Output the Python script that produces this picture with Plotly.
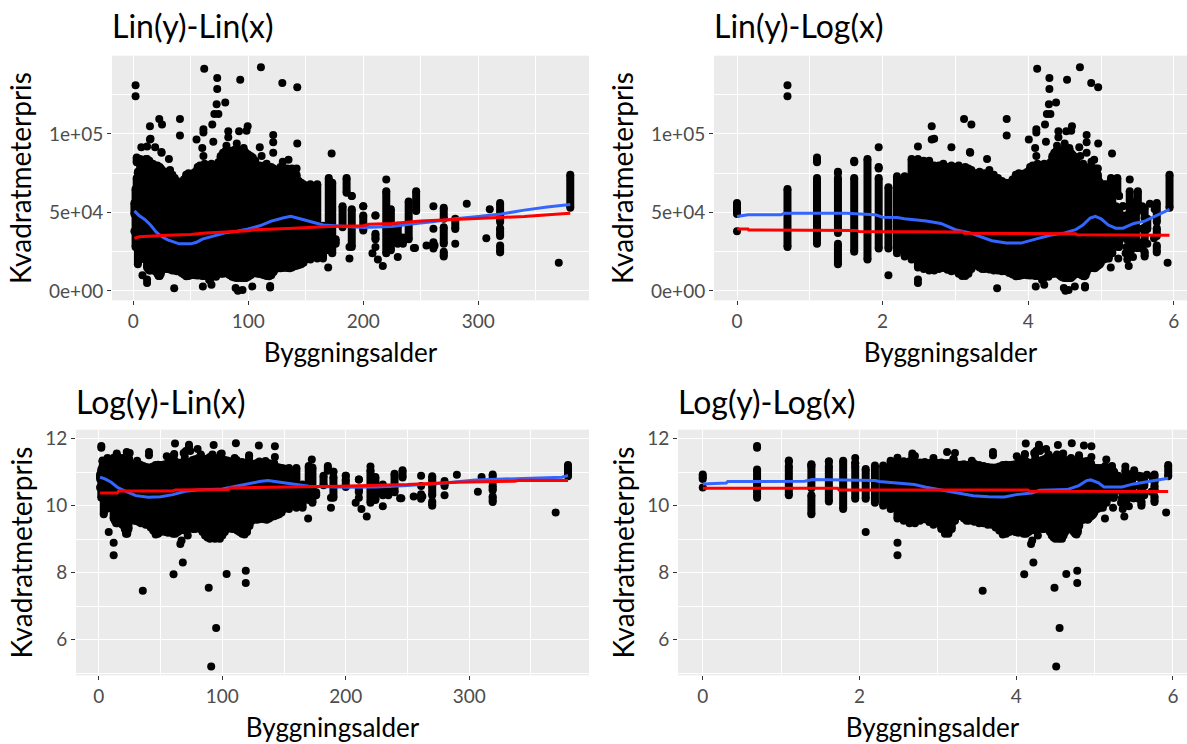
import math
import plotly.graph_objects as go

# Dense body of points, read column by column: age, lowest and highest price
MASS_AGE = [1,2,3,3,4,4,4,5,5,6,7,7,8,9,10,11,12,13,14,15,16,17,18,19,20,21,22,23,24,25,26,27,28,29,30,32,34,36,38,40,42,44,46,48,50,52,54,56,58,60,62,64,66,68,70,72,74,76,78,80,82,84,86,88,90,92,94,96,98,100,102,104,106,108,110,112,114,116,118,120,122,124,126,128,130,132,134,136,138,140,142,144,146,148,150]
MASS_LOW = [49000,28000,30000,82000,37000,17000,75000,25000,82000,20000,27000,78000,27000,24000,22000,20000,15000,14000,13000,13000,14000,14700,13500,12500,13000,11000,9500,9500,11000,14000,16500,16000,15000,14000,14000,13600,13000,13000,12500,12500,11500,10500,9300,9500,10000,10400,10000,9800,10000,9500,9500,10000,10500,11000,10500,11000,11500,11000,11000,11500,11000,10000,9000,8500,8200,8400,8200,8300,8200,9000,10000,11000,11500,11000,11000,10500,10000,9500,9300,10000,12000,14000,14700,14500,14700,15000,14700,14500,15000,15800,16000,16500,17000,18000,20000]
MASS_HIGH = [56000,65000,72000,85000,72000,30000,76000,72000,83000,84000,72000,79000,66000,73000,73000,84000,84000,83000,83000,80000,80000,81000,79000,80000,79000,80000,78000,79000,78000,77000,75000,75000,76000,74000,75000,75000,74000,72000,70000,69000,69000,71000,74000,75000,74500,75000,76000,79000,80000,78000,81000,80000,79000,81000,80000,79000,82000,86000,88000,89000,90000,88000,89000,90000,89000,90000,88000,91000,88000,87000,86000,85000,83000,79000,80000,79000,80000,81000,78000,79000,78000,77000,76000,79000,79000,77000,78000,76000,78000,75000,74000,70000,69000,68000,67000]

# Sparser columns of points at the old ages, split where the picture shows gaps
OLD_AGE = [154,160,165,170,173,176,182,185.5,190,190,200,200,210.6,210.6,220,224,230,234.5,239.5,246,261,270,270,270,280,319,319,319,380]
OLD_LOW = [20000,20700,20700,26000,24000,30000,40600,62500,28000,60500,38500,54000,33000,48000,24000,26000,30000,30000,33000,51000,27000,46000,30000,22000,39500,44000,35000,24500,53000]
OLD_HIGH = [68000,68000,41600,72000,69000,33000,54000,72000,52000,60500,48000,54000,36400,48000,63600,52000,41600,34000,57000,63600,31000,53000,40600,25000,46000,56000,40000,29000,74000]

# Single points outside the dense body
OUT_AGE = [1,8,2,2,61.7,111,73,73,93,129.6,142.6,80,72.5,70.5,74,68.7,61,61,22.6,25,14.5,14.5,7,19,40.6,40.6,55,69.6,60,61,24.6,31,32,82.6,82.6,92,99.5,98.5,90,81,121.7,121.7,121.7,110,111.6,142.6,135,130,142,172.5,169.5,35.6,60.5,68,89,95,91,103.5,119,119,12,12,370,290,307,310,230,245,217,212.7,208,188,188,210.6,220,255,261,262,261,244,280,24.5,15,12,66,67,72]
OUT_PRICE = [38000,10000,131000,124000,141500,142500,135700,128700,134500,132500,129800,120000,119000,112800,112800,106000,103000,101000,109500,106000,105000,96500,91500,91500,109500,99000,96500,95000,91000,86000,88000,84000,77000,101700,98000,101700,105000,102000,94000,92500,99400,94700,88000,91500,86000,94000,83600,82300,78000,87500,15000,1740,2840,4020,1900,570,180,2850,3150,2180,7300,5000,18000,55500,33500,52000,21700,27400,15900,20000,24000,28000,20700,28000,71000,29000,54000,29000,39600,27400,30000,88500,97000,92000,7000,7800,9000]

# Smoothers in each panel
LINLIN_BLUE_X = [1,5,10,15,20,25,30,40,50,55,60,70,80,90,100,110,120,130,137,145,155,165,175,190,200,225,240,260,280,300,320,340,360,380]
LINLIN_BLUE_Y = [51000,48000,45500,42000,37500,34500,32500,30000,30000,31000,33000,35000,37000,38000,39500,41500,44500,46500,47500,46000,44000,42000,41500,41000,40500,41000,42500,44000,46000,47500,49000,51500,53500,55000]
LINLIN_RED_X = [1,5,30,50,60,80,100,105,130,135,170,200,205,225,250,280,320,340,370,380]
LINLIN_RED_Y = [33500,34500,35500,36000,36800,37500,38300,39000,39500,39800,41000,41500,42500,43000,44500,45500,47000,47500,49000,49500]

LINLOG_BLUE_X = [0,.1,.15,.6,.65,1.5,1.9,2,2.2,2.3,2.6,2.8,3,3.2,3.4,3.5,3.7,3.9,4.1,4.3,4.5,4.65,4.75,4.85,4.92,5,5.1,5.2,5.3,5.45,5.6,5.75,5.94]
LINLOG_BLUE_Y = [47500,48000,48500,48500,49500,49500,48500,47000,46800,46000,44500,43000,39000,37000,33500,32000,30500,30500,33000,35500,37000,39000,42000,46500,47500,46000,42000,40000,40000,43000,44500,48000,52000]
LINLOG_RED_X = [0,.15,.16,1.65,1.67,3.1,3.12,4.65,4.67,5.94]
LINLOG_RED_Y = [39500,39500,38800,38500,37800,37500,36700,36500,35800,35500]

LOGLIN_BLUE_X = [1,5,10,15,20,30,40,50,60,70,80,100,110,120,130,137,150,170,200,225,250,280,305,330,350,375,380]
LOGLIN_BLUE_Y = [10.85,10.8,10.7,10.55,10.46,10.3,10.25,10.27,10.33,10.43,10.47,10.5,10.57,10.65,10.72,10.75,10.68,10.58,10.55,10.56,10.6,10.68,10.77,10.8,10.84,10.85,10.9]
LOGLIN_RED_X = [1,15,16,60,62,105,106,150,195,225,250,290,337,340,380]
LOGLIN_RED_Y = [10.38,10.38,10.44,10.44,10.47,10.48,10.53,10.55,10.58,10.61,10.63,10.7,10.73,10.76,10.75]

LOGLOG_BLUE_X = [0,.3,.32,1.3,1.4,2.2,2.25,2.5,2.7,2.85,3.05,3.3,3.45,3.65,3.85,4,4.2,4.3,4.65,4.8,4.9,4.95,5.05,5.12,5.35,5.5,5.7,5.85,5.94]
LOGLOG_BLUE_Y = [10.65,10.68,10.72,10.73,10.78,10.75,10.72,10.66,10.63,10.55,10.47,10.38,10.3,10.27,10.26,10.33,10.38,10.46,10.48,10.6,10.75,10.77,10.68,10.56,10.56,10.65,10.72,10.78,10.82]
LOGLOG_RED_X = [0,1.72,1.74,4.15,4.17,5.94]
LOGLOG_RED_Y = [10.52,10.52,10.47,10.47,10.43,10.42]

TITLES = ["Lin(y)-Lin(x)", "Lin(y)-Log(x)", "Log(y)-Lin(x)", "Log(y)-Log(x)"]
X_TITLE = "Byggningsalder"
Y_TITLE = "Kvadratmeterpris"
LIN_Y_TICKS = [0, 50000, 100000]
LIN_Y_LABELS = ["0e+00", "5e+04", "1e+05"]
LOG_Y_TICKS = [6, 8, 10, 12]
LOG_X_TICKS = [0, 2, 4, 6]
LIN_X_TICKS = [0, 100, 200, 300]

W, H = 1187, 744
FONT = "Lato, 'Open Sans', sans-serif"
INK = "#4D4D4D"

# panel box in pixels (left, right, top, bottom) and axis ranges
LIN_Y_RANGE = (-6020, 149870)
LOG_Y_RANGE = (4.93, 12.27)
PANELS = [
    dict(box=(112, 589, 53, 299), xr=(-18.5, 396.3), yr=LIN_Y_RANGE, logx=False, logy=False, ys=8.5, tgap=8.5,
         blue=(LINLIN_BLUE_X, LINLIN_BLUE_Y), red=(LINLIN_RED_X, LINLIN_RED_Y), xt=LIN_X_TICKS, xm=50),
    dict(box=(714, 1187, 53, 299), xr=(-0.316, 6.18), yr=LIN_Y_RANGE, logx=True, logy=False, ys=8.5, tgap=8.5,
         blue=(LINLOG_BLUE_X, LINLOG_BLUE_Y), red=(LINLOG_RED_X, LINLOG_RED_Y), xt=LOG_X_TICKS, xm=1),
    dict(box=(76, 589, 429, 676), xr=(-18.5, 397), yr=LOG_Y_RANGE, logx=False, logy=True, ys=4, tgap=7,
         blue=(LOGLIN_BLUE_X, LOGLIN_BLUE_Y), red=(LOGLIN_RED_X, LOGLIN_RED_Y), xt=LIN_X_TICKS, xm=50),
    dict(box=(678, 1187, 429, 676), xr=(-0.316, 6.18), yr=LOG_Y_RANGE, logx=True, logy=True, ys=4, tgap=7,
         blue=(LOGLOG_BLUE_X, LOGLOG_BLUE_Y), red=(LOGLOG_RED_X, LOGLOG_RED_Y), xt=LOG_X_TICKS, xm=1),
]

fig = go.Figure()
layout = {}
annotations = []

for i, p in enumerate(PANELS):
    sfx = "" if i == 0 else str(i + 1)
    l, r, t, b = p["box"]
    fx = (lambda a: math.log(a)) if p["logx"] else (lambda a: a)
    fy = (lambda v: math.log(v)) if p["logy"] else (lambda v: v)

    xs, ys = [], []
    for ages, lows, highs in ((MASS_AGE, MASS_LOW, MASS_HIGH), (OLD_AGE, OLD_LOW, OLD_HIGH)):
        for a, lo, hi in zip(ages, lows, highs):
            xs += [fx(a), fx(a), None]
            ys += [fy(lo), fy(hi), None]
    common = dict(xaxis="x" + sfx, yaxis="y" + sfx, showlegend=False, hoverinfo="skip")
    fig.add_trace(go.Scatter(x=xs, y=ys, mode="lines+markers",
                             line=dict(color="black", width=8),
                             marker=dict(color="black", size=8), **common))
    fig.add_trace(go.Scatter(x=[fx(a) for a in OUT_AGE], y=[fy(v) for v in OUT_PRICE], mode="markers",
                             marker=dict(color="black", size=8), **common))
    fig.add_trace(go.Scatter(x=p["blue"][0], y=p["blue"][1], mode="lines",
                             line=dict(color="#3366FF", width=3), **common))
    fig.add_trace(go.Scatter(x=p["red"][0], y=p["red"][1], mode="lines",
                             line=dict(color="#FF0000", width=3), **common))

    grid = dict(showgrid=True, gridcolor="white", gridwidth=1.3, zeroline=False, showline=False,
                ticks="outside", ticklen=4, tickwidth=1, tickcolor="#333333",
                tickfont=dict(family=FONT, size=19, color=INK))
    layout["xaxis" + sfx] = dict(
        grid, domain=[l / W, r / W], range=list(p["xr"]), anchor="y" + sfx,
        tickvals=p["xt"], ticktext=[str(v) for v in p["xt"]],
        minor=dict(dtick=p["xm"], tick0=0, showgrid=True, gridcolor="white", gridwidth=0.7, ticks=""),
        title=dict(text=X_TITLE, font=dict(family=FONT, size=26, color="black"), standoff=12))
    if p["logy"]:
        yt, yl, ym = LOG_Y_TICKS, [str(v) for v in LOG_Y_TICKS], 1
    else:
        yt, yl, ym = LIN_Y_TICKS, LIN_Y_LABELS, 25000
    layout["yaxis" + sfx] = dict(
        grid, domain=[1 - b / H, 1 - t / H], range=list(p["yr"]), anchor="x" + sfx,
        tickvals=yt, ticktext=yl,
        minor=dict(dtick=ym, tick0=0, showgrid=True, gridcolor="white", gridwidth=0.7, ticks=""),
        title=dict(text=Y_TITLE, font=dict(family=FONT, size=28, color="black"), standoff=p["ys"]))
    annotations.append(dict(text=TITLES[i], xref="paper", yref="paper", x=l / W, y=1 - (t - p["tgap"]) / H,
                            xanchor="left", yanchor="bottom", showarrow=False, xshift=-2,
                            font=dict(family=FONT, size=32, color="black")))

fig.update_layout(width=W, height=H, autosize=False, margin=dict(l=0, r=0, t=0, b=0),
                  paper_bgcolor="white", plot_bgcolor="#EBEBEB", annotations=annotations, **layout)
fig.write_html("out.html", config={"displayModeBar": False},
               post_script="document.body.style.margin='0';document.body.style.overflow='hidden';")
